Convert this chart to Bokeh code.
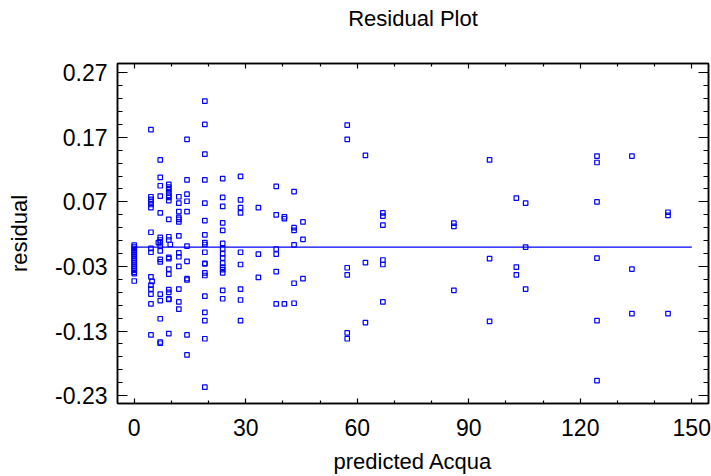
from bokeh.plotting import figure
from bokeh.models import LinearAxis, FixedTicker, Range1d, PrintfTickFormatter
from bokeh.embed import file_html
from bokeh.resources import INLINE

# predicted values (x) and residuals (y), grouped by predicted level
predicted = (
    [0.0] * 17
    + [4.5] * 15 + [4.8]
    + [7.0] * 17 + [6.5]
    + [9.3] * 19 + [9.7]
    + [12.0] * 13
    + [14.2] * 11
    + [19.0] * 19
    + [23.8] * 15
    + [28.6] * 9
    + [33.4] * 3
    + [38.2] * 6
    + [40.4] * 3
    + [43.0] * 6
    + [45.4] * 3
    + [57.3] * 6
    + [62.2] * 3
    + [66.9] * 6
    + [86.0] * 3
    + [95.6] * 3
    + [102.8] * 3
    + [105.3] * 3
    + [124.5] * 6
    + [133.9] * 3
    + [143.6] * 3
)

residual = (
    [0.003, 0.0, -0.003, -0.006, -0.009, -0.012, -0.015, -0.018, -0.021,
     -0.024, -0.027, -0.030, -0.033, -0.036, -0.039, -0.041, -0.0525]
    + [0.182, 0.078, 0.074, 0.070, 0.066, 0.061, 0.023, -0.002, -0.008,
       -0.046, -0.059, -0.065, -0.073, -0.088, -0.136, -0.053]
    + [0.135, 0.108, 0.095, 0.079, 0.053, 0.015, 0.011, 0.007, 0.0015,
       -0.006, -0.019, -0.023, -0.073, -0.083, -0.111, -0.147, -0.149, 0.007]
    + [0.097, 0.093, 0.089, 0.084, 0.080, 0.077, 0.072, 0.043, 0.016,
       0.011, -0.016, -0.018, -0.034, -0.042, -0.066, -0.070, -0.080,
       -0.081, -0.134, 0.004]
    + [0.078, 0.068, 0.055, 0.046, 0.043, 0.039, 0.0175, -0.009, -0.015,
       -0.030, -0.065, -0.085, -0.096]
    + [0.167, 0.104, 0.082, 0.071, 0.055, 0.0015, -0.022, -0.049, -0.051,
       -0.136, -0.167]
    + [0.226, 0.190, 0.144, 0.104, 0.068, 0.041, 0.019, 0.007, 0.004,
       -0.008, -0.025, -0.026, -0.040, -0.044, -0.076, -0.101, -0.114,
       -0.142, -0.217]
    + [0.106, 0.077, 0.063, 0.0375, 0.026, 0.0056, -0.0026, -0.010, -0.017,
       -0.025, -0.031, -0.035, -0.040, -0.067, -0.080]
    + [0.1095, 0.073, 0.061, 0.053, -0.008, -0.027, -0.065, -0.082, -0.114]
    + [0.061, -0.011, -0.047]
    + [0.094, 0.050, -0.003, -0.011, -0.038, -0.088]
    + [0.047, 0.044, -0.088]
    + [0.086, 0.030, 0.026, 0.0035, -0.056, -0.087]
    + [0.039, 0.012, -0.049]
    + [0.189, 0.167, -0.032, -0.043, -0.133, -0.142]
    + [0.142, -0.024, -0.117]
    + [0.053, 0.048, 0.034, -0.020, -0.027, -0.085]
    + [0.037, 0.032, -0.067]
    + [0.135, -0.018, -0.115]
    + [0.076, -0.031, -0.043]
    + [0.068, 0.0, -0.065]
    + [0.141, 0.131, 0.070, -0.017, -0.114, -0.207]
    + [0.141, -0.034, -0.103]
    + [0.054, 0.049, -0.103]
)

fit_x = [0, 150]
fit_y = [0, 0]

x_ticks = [0, 30, 60, 90, 120, 150]
x_minor = [10, 20, 40, 50, 70, 80, 100, 110, 130, 140]
y_ticks = [-0.23, -0.13, -0.03, 0.07, 0.17, 0.27]
y_minor = [-0.21, -0.19, -0.17, -0.15, -0.11, -0.09, -0.07, -0.05,
           -0.01, 0.01, 0.03, 0.05, 0.09, 0.11, 0.13, 0.15,
           0.19, 0.21, 0.23, 0.25]

FONT = "Liberation Sans"

p = figure(width=711, height=476, output_backend="svg", toolbar_location=None,
           x_range=Range1d(-4.5, 154.5), y_range=Range1d(-0.2423, 0.2844),
           min_border_left=117, min_border_right=3, min_border_top=63,
           min_border_bottom=72, title="Residual Plot")
p.grid.visible = False
p.background_fill_color = "white"
p.border_fill_color = "white"
p.outline_line_color = "black"
p.outline_line_width = 1.5

p.title.align = "center"
p.title.vertical_align = "bottom"
p.title.text_font = FONT
p.title.text_font_size = "22px"
p.title.text_font_style = "normal"
p.title.text_color = "black"
p.title.standoff = 0
p.title.padding = dict(top=0, right=0, bottom=33, left=0)


def style_x(ax, labels=True):
    ax.ticker = FixedTicker(ticks=x_ticks, minor_ticks=x_minor)
    ax.major_tick_in = 5
    ax.major_tick_out = 0
    ax.minor_tick_in = 3
    ax.minor_tick_out = 0
    ax.axis_line_width = 1.5
    ax.major_tick_line_width = 1.2
    ax.minor_tick_line_width = 1.2
    if labels:
        ax.major_label_text_font = FONT
        ax.major_label_text_font_size = "23px"
        ax.major_label_text_color = "black"
        ax.major_label_standoff = 15
    else:
        ax.major_label_text_color = None
        ax.major_label_standoff = 0


def style_y(ax, labels=True):
    ax.ticker = FixedTicker(ticks=y_ticks, minor_ticks=y_minor)
    ax.formatter = PrintfTickFormatter(format="%.2f")
    ax.major_tick_in = 10
    ax.major_tick_out = 0
    ax.minor_tick_in = 5
    ax.minor_tick_out = 0
    ax.axis_line_width = 1.5
    ax.major_tick_line_width = 1.2
    ax.minor_tick_line_width = 1.2
    if labels:
        ax.major_label_text_font = FONT
        ax.major_label_text_font_size = "23px"
        ax.major_label_text_color = "black"
        ax.major_label_standoff = 10
    else:
        ax.major_label_text_color = None
        ax.major_label_standoff = 0


xa = p.xaxis[0]
style_x(xa)
xa.axis_label = "predicted Acqua"
xa.axis_label_text_font = FONT
xa.axis_label_text_font_size = "22px"
xa.axis_label_text_font_style = "normal"
xa.axis_label_text_color = "black"
xa.axis_label_standoff = 10

ya = p.yaxis[0]
style_y(ya)
ya.axis_label = "residual"
ya.axis_label_text_font = FONT
ya.axis_label_text_font_size = "22px"
ya.axis_label_text_font_style = "normal"
ya.axis_label_text_color = "black"
ya.axis_label_standoff = 20

top = LinearAxis()
style_x(top, labels=False)
p.add_layout(top, "above")

right = LinearAxis()
style_y(right, labels=False)
p.add_layout(right, "right")

p.line(fit_x, fit_y, line_color="#0000FF", line_width=1.2)
p.scatter(predicted, residual, marker="square", size=4.5, fill_color=None,
          line_color="#0000FF", line_width=1.2)

open("out.html", "w").write(file_html(p, INLINE))
